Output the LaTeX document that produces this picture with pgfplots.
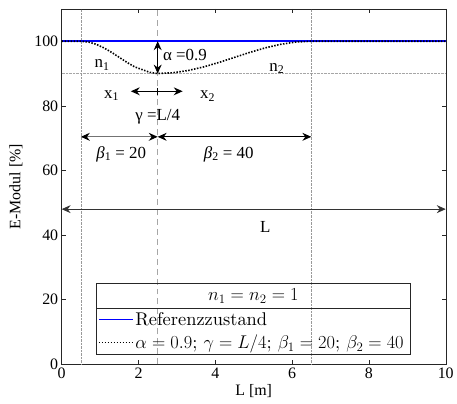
\RequirePackage{fix-cm}
\documentclass[border=0pt]{standalone}
\usepackage{fontspec}
\usepackage{pgfplots}
\pgfplotsset{compat=1.18}
\usetikzlibrary{arrows.meta}
\newfontfamily\tms{Liberation Serif}
\newfontfamily\lmten{lmroman10-regular.otf}
\newcommand\legfont{\lmten\fontsize{18.5}{22}\selectfont}
\definecolor{refblue}{RGB}{0,0,255}

\begin{document}
\begin{tikzpicture}[>={Stealth[length=9pt,width=8pt,inset=3pt]}]
\begin{axis}[
    name=ax,
    scale only axis,
    width=386pt, height=357pt,
    xmin=0, xmax=10, ymin=0, ymax=110,
    xtick={0,2,...,10}, ytick={0,20,...,100},
    tick align=inside,
    major tick length=4pt,
    axis line style={black!85},
    every tick/.style={black!85},
    tick label style={font=\tms\fontsize{16}{19}\selectfont},
    /pgf/number format/assume math mode=true,
    xlabel={L [m]}, ylabel={E-Modul [\%]},
    label style={font=\tms\fontsize{16}{19}\selectfont},
    xlabel style={at={(axis description cs:0.5,-0.076)}, anchor=center},
    ylabel style={at={(axis description cs:-0.119,0.5)}, anchor=center},
    clip=false,
    legend style={draw=none, fill=none, inner sep=0pt,
        font=\legfont,
        at={(axis description cs:0.094,0.0925)}, anchor=west,
        row sep=4pt},
    legend cell align=left,
]
% guide lines
\draw[gray!70, densely dotted] (0,90) -- (10,90);
\draw[gray!80, densely dotted] (0.5,0) -- (0.5,110);
\draw[gray!80, densely dotted] (6.5,0) -- (6.5,110);
\draw[gray!70, line width=1pt, dash pattern=on 6pt off 4pt] (2.5,0) -- (2.5,110);

\addplot[refblue, line width=1.6pt,
    legend image code/.code={\draw[refblue, line width=1.6pt] (0pt,0pt) -- (34pt,0pt);}]
    coordinates {(0,100) (10,100)};
\addlegendentry{Referenzzustand}
\addplot[black, line width=1.6pt, dash pattern=on 1.5pt off 1.5pt,
    legend image code/.code={\draw[black, line width=1.6pt, dash pattern=on 1.5pt off 1.5pt] (0pt,0pt) -- (34pt,0pt);}]
    coordinates {
    (0,100) (0.5,100) (0.7,99.76) (0.9,99.05) (1.1,97.94) (1.3,96.55)
    (1.5,95) (1.7,93.45) (1.9,92.06) (2.1,91.2) (2.3,90.35) (2.5,90)
    (2.9,90.24) (3.3,90.95) (3.7,92.06) (4.1,93.45) (4.5,95)
    (4.9,96.55) (5.3,97.94) (5.7,99.05) (6.1,99.76) (6.5,100) (10,100)
};
\addlegendentry{$\alpha = 0.9$; $\gamma = L/4$; $\beta_1 = 20$; $\beta_2 = 40$}

% annotations
\begin{scope}[font=\tms\fontsize{17}{20}\selectfont]
\draw[<->, line width=1pt] (2.5,100) -- (2.5,90);
\node[anchor=west] at (2.55,95.6) {α =0.9};
\node at (1.05,92.6) {n\textsubscript{1}};
\node at (5.6,91.6) {n\textsubscript{2}};
\draw[<->, line width=1pt] (1.8,84.5) -- (3.15,84.5);
\draw[line width=0.8pt] (2.5,83.5) -- (2.5,85.5);
\node at (1.3,83.2) {x\textsubscript{1}};
\node at (3.8,83.0) {x\textsubscript{2}};
\node at (2.5,76.6) {γ =L/4};
\draw[{Stealth[length=9pt,width=8pt,inset=3pt,black]}-{Stealth[length=9pt,width=8pt,inset=3pt,black]}, line width=1pt, black!55] (0.5,70.4) -- (2.5,70.4);
\draw[<->, line width=0.8pt] (2.5,70.4) -- (6.5,70.4);
\node at (1.55,65) {\textit{β}\textsubscript{1} = 20};
\node at (4.35,65) {\textit{β}\textsubscript{2} = 40};
\draw[<->, line width=0.8pt, black!80] (0,48) -- (10,48);
\node at (5.3,42.6) {L};
\end{scope}

% legend frame and title
\draw[black!85, line width=0.6pt, fill=none] (0.907,3.06) rectangle (9.07,25.1);
\draw[black!85, line width=0.6pt] (0.907,17.2) -- (9.07,17.2);
\node[font=\legfont] at (4.99,21.1) {$n_1 = n_2 = 1$};
\end{axis}
\path (ax.south west) +(-62pt,-40pt) (ax.north east) +(9pt,9pt);
\end{tikzpicture}
\end{document}
